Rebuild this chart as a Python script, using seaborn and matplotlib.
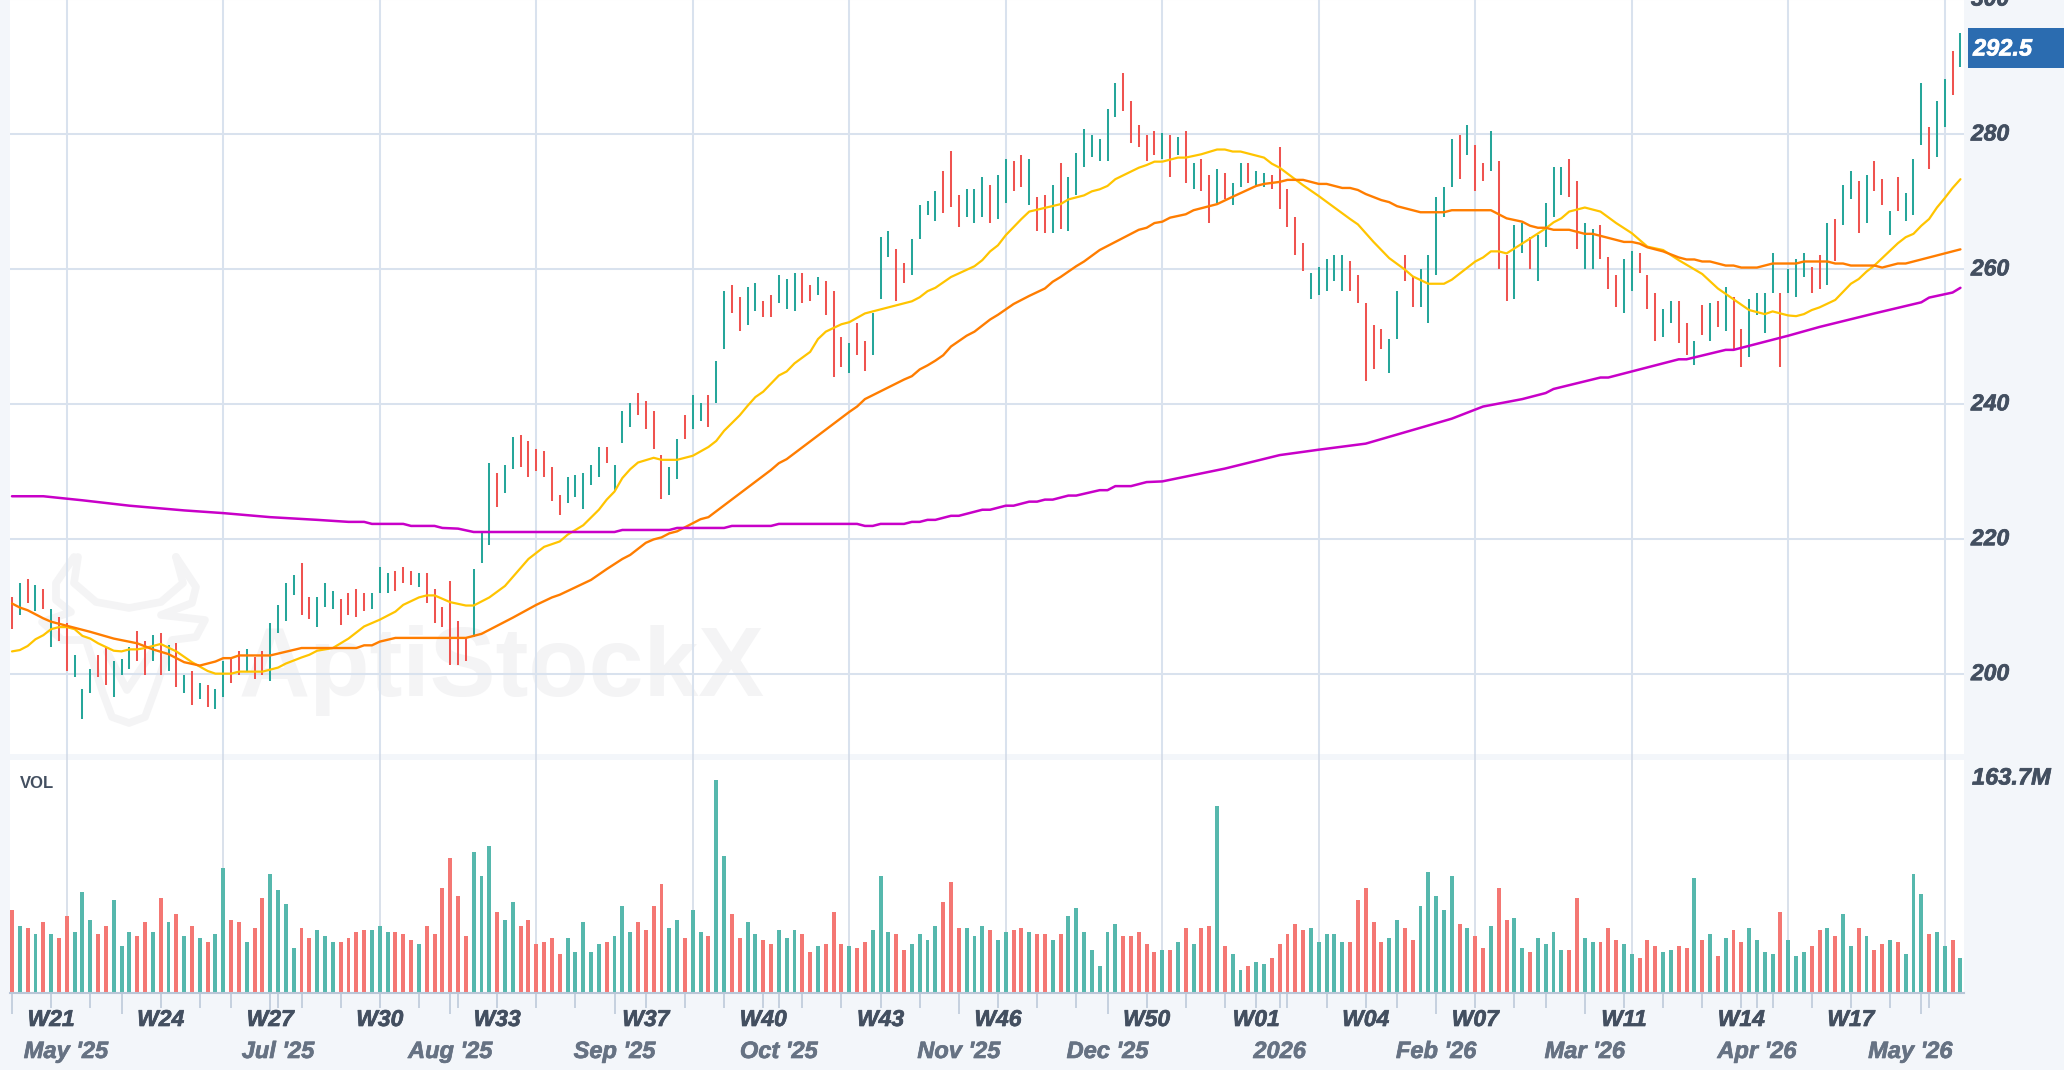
import matplotlib

matplotlib.use("Agg")
import matplotlib.patheffects as pe
import matplotlib.pyplot as plt
import numpy as np
import pandas as pd
import seaborn as sns
from matplotlib.lines import Line2D
from matplotlib.patches import Rectangle
from matplotlib.transforms import Affine2D, blended_transform_factory

# one letter per session, r = down, g = up
DIRECTIONS = list(
    "rgrgrgrrgg" "grrgggrrgr" "grgrgrggrr" "grrggggrrg" "ggrrrrgggr"
    "rrgrrrrrrg" "ggrggrrrrr" "rgggggrggg" "rrrrggrggr" "ggrrggrrgg"
    "grrgrrrgrr" "gggrrggggr" "rrgggrggrr" "grrgrggggg" "ggrrrrrgrg"
    "rgrrgrggrg" "grrrrrgggg" "grrrrrggrr" "gggggrgrrg" "rrggrggggr"
    "rggrrrggrr" "rggrrgrgrg" "rrggggrggg" "rrgrggrgrr" "grgggrggrg"
)

HIGH = [
    211.4, 213.4, 214.0, 213.1, 212.6, 209.6, 208.4, 207.5, 202.8, 197.7,
    200.7, 202.8, 204.0, 201.9, 202.2, 204.0, 206.3, 204.8, 205.7, 206.0,
    204.3, 204.5, 199.8, 200.4, 198.6, 198.3, 197.7, 201.9, 202.2, 203.4,
    203.7, 202.5, 203.4, 207.5, 210.2, 213.4, 214.6, 216.4, 211.4, 211.4,
    213.4, 212.3, 211.1, 212.0, 212.6, 212.0, 212.0, 215.8, 214.9, 215.2,
    215.8, 215.2, 214.9, 214.9, 212.6, 209.9, 213.7, 207.8, 205.4, 215.5,
    221.0, 231.2, 229.8, 230.9, 235.1, 235.4, 234.5, 233.3, 233.0, 230.6,
    226.5, 229.2, 229.5, 229.8, 230.9, 233.6, 233.6, 230.9, 238.9, 240.1,
    241.6, 240.4, 238.9, 232.4, 230.6, 234.8, 238.4, 241.3, 240.1, 241.3,
    246.4, 256.7, 257.6, 255.8, 257.3, 257.9, 255.3, 256.1, 259.1, 258.5,
    259.4, 259.4, 257.6, 258.8, 258.2, 256.7, 249.9, 249.0, 252.0, 249.3,
    253.5, 264.7, 265.6, 263.0, 260.9, 264.4, 269.5, 270.1, 271.6, 274.5,
    277.5, 271.0, 271.9, 271.9, 273.6, 272.4, 273.9, 276.3, 276.0, 276.9,
    276.3, 270.7, 271.0, 272.4, 275.7, 273.6, 277.2, 280.7, 279.9, 279.3,
    283.7, 287.6, 289.0, 284.9, 281.3, 279.9, 280.5, 280.2, 279.9, 279.6,
    280.5, 275.7, 276.3, 273.9, 274.8, 274.2, 272.7, 275.7, 275.7, 274.5,
    274.2, 273.9, 278.1, 271.9, 267.7, 263.9, 259.4, 260.3, 261.5, 262.1,
    262.1, 261.2, 259.1, 254.9, 251.7, 251.1, 249.6, 256.7, 262.1, 258.8,
    260.0, 262.1, 270.7, 272.2, 279.3, 279.9, 281.3, 278.4, 275.7, 280.5,
    276.0, 262.1, 266.5, 266.8, 264.7, 265.0, 269.8, 275.1, 275.1, 276.3,
    273.0, 266.8, 265.9, 266.5, 261.8, 259.1, 261.5, 262.7, 262.4, 259.1,
    256.4, 254.1, 255.3, 255.3, 252.0, 249.3, 254.7, 255.0, 255.3, 257.3,
    255.8, 251.1, 255.6, 256.4, 256.4, 262.4, 256.4, 260.0, 261.5, 262.4,
    260.3, 262.1, 266.8, 267.4, 272.4, 274.5, 273.0, 273.9, 276.0, 273.3,
    268.6, 273.6, 271.3, 276.3, 287.6, 281.0, 284.9, 288.2, 292.3, 295.0,
]

LOW = [
    206.6, 208.7, 210.5, 209.3, 209.6, 204.0, 204.8, 200.4, 199.5, 193.3,
    197.1, 199.5, 198.3, 196.5, 199.8, 200.7, 201.9, 199.8, 201.9, 199.8,
    200.4, 198.0, 197.1, 195.4, 196.2, 195.1, 194.8, 196.5, 198.6, 199.8,
    200.4, 199.2, 199.8, 198.9, 206.0, 207.8, 211.7, 208.7, 208.1, 206.9,
    209.9, 209.6, 207.2, 208.7, 208.4, 209.3, 209.6, 212.0, 212.0, 212.3,
    213.4, 213.1, 212.8, 210.5, 207.5, 206.9, 201.3, 201.3, 201.9, 205.4,
    216.45, 219.1, 224.7, 226.8, 230.3, 230.6, 229.2, 230.0, 229.2, 225.6,
    223.5, 225.3, 226.2, 224.4, 228.0, 229.2, 231.2, 227.1, 234.2, 236.6,
    238.4, 236.3, 233.3, 225.9, 226.5, 228.9, 234.8, 236.3, 237.5, 236.6,
    240.1, 248.1, 253.5, 250.8, 251.7, 253.8, 252.9, 252.9, 255.0, 254.1,
    253.8, 255.0, 255.3, 256.1, 253.2, 244.0, 245.5, 244.6, 247.2, 244.9,
    247.2, 255.5, 261.8, 255.2, 257.9, 259.1, 264.4, 268.0, 267.1, 268.3,
    269.2, 266.2, 267.7, 266.8, 267.7, 266.8, 267.4, 269.8, 271.6, 272.2,
    269.5, 265.6, 265.3, 265.3, 265.9, 265.6, 271.0, 275.1, 276.6, 276.0,
    276.0, 282.5, 283.4, 278.7, 278.1, 276.0, 276.9, 276.3, 273.6, 276.9,
    272.7, 271.9, 271.6, 266.8, 269.8, 270.4, 269.5, 272.2, 272.7, 272.4,
    272.2, 271.9, 268.9, 266.2, 262.1, 259.7, 255.5, 256.1, 256.7, 258.2,
    256.7, 256.7, 254.9, 243.4, 245.2, 248.1, 244.6, 249.6, 258.2, 254.4,
    254.4, 252.0, 259.1, 267.7, 272.2, 273.3, 276.9, 271.6, 273.0, 274.5,
    260.0, 255.2, 255.5, 262.4, 260.0, 258.2, 263.3, 267.7, 271.0, 270.7,
    263.0, 260.0, 260.0, 261.5, 257.0, 254.4, 253.5, 256.7, 259.4, 254.1,
    249.3, 249.9, 252.0, 249.0, 247.3, 245.8, 250.2, 249.3, 251.4, 250.8,
    248.1, 245.5, 247.0, 253.2, 250.5, 256.4, 245.5, 256.4, 255.8, 258.8,
    256.4, 257.0, 257.6, 261.2, 266.5, 270.4, 265.3, 266.8, 271.6, 269.5,
    265.0, 268.6, 267.1, 268.0, 278.4, 274.8, 276.6, 281.0, 285.8, 289.9,
]

VOLUME_M = [
    64.0, 51.7, 50.1, 45.5, 54.7, 45.5, 42.5, 59.3, 47.1, 77.8,
    56.3, 45.5, 51.7, 71.6, 36.3, 47.1, 44.0, 54.7, 47.1, 73.2,
    54.7, 60.9, 44.0, 51.7, 42.5, 39.4, 45.5, 96.2, 56.3, 54.7,
    39.4, 50.1, 73.2, 91.6, 79.3, 68.6, 34.8, 50.1, 42.5, 48.6,
    44.0, 39.4, 39.4, 42.5, 47.1, 48.6, 48.6, 51.7, 47.1, 47.1,
    45.5, 40.9, 37.9, 51.7, 45.5, 80.8, 103.9, 74.7, 44.0, 108.5,
    90.0, 113.1, 62.4, 56.3, 70.1, 51.7, 56.3, 37.9, 39.4, 42.5,
    30.2, 42.5, 31.7, 54.7, 31.7, 37.9, 39.4, 44.0, 67.0, 47.1,
    54.7, 48.6, 67.0, 83.9, 50.1, 56.3, 42.5, 64.0, 47.1, 44.0,
    163.7, 105.4, 60.9, 42.5, 54.7, 45.5, 40.9, 37.9, 48.6, 42.5,
    48.6, 45.5, 31.7, 36.3, 37.9, 62.4, 37.9, 36.3, 34.8, 39.4,
    48.6, 90.0, 47.1, 45.5, 33.3, 37.9, 45.5, 40.9, 51.7, 70.1,
    85.4, 50.1, 50.1, 44.0, 51.7, 48.6, 40.9, 47.1, 48.6, 50.1,
    47.1, 45.5, 45.5, 40.9, 45.5, 59.3, 65.5, 47.1, 33.3, 21.0,
    47.1, 53.2, 44.0, 44.0, 47.1, 37.9, 31.7, 33.3, 33.3, 39.4,
    50.1, 37.9, 50.1, 51.7, 143.8, 36.3, 30.2, 17.9, 21.0, 24.0,
    22.5, 27.1, 37.9, 45.5, 53.2, 48.6, 50.1, 39.4, 45.5, 45.5,
    39.4, 39.4, 71.6, 80.8, 54.7, 39.4, 42.5, 56.3, 50.1, 40.9,
    67.0, 93.1, 74.7, 64.0, 90.0, 53.2, 50.1, 44.0, 34.8, 51.7,
    80.8, 56.3, 57.8, 34.8, 31.7, 42.5, 37.9, 47.1, 33.3, 33.3,
    73.2, 42.5, 39.4, 39.4, 50.1, 40.9, 37.9, 30.2, 27.1, 40.9,
    36.3, 31.7, 33.3, 36.3, 34.8, 88.5, 40.9, 45.5, 28.6, 42.5,
    48.6, 39.4, 50.1, 40.9, 31.7, 30.2, 62.4, 40.9, 28.6, 31.7,
    36.3, 48.6, 50.1, 44.0, 60.9, 36.3, 50.1, 44.0, 33.3, 37.9,
    40.9, 39.4, 30.2, 91.6, 76.2, 45.5, 47.1, 36.3, 40.9, 27.1,
]

YELLOW_BARS = [
    0, 1, 2, 3, 4, 5, 6, 7, 8, 9, 10, 11, 13, 14, 15, 16, 17, 19, 21, 23, 25, 26, 28, 29, 32,
    34, 35, 37, 38, 39, 41, 43, 45, 47, 49, 50, 52, 53, 54, 56, 58, 59, 61, 63, 66, 68, 70, 71,
    73, 75, 76, 77, 78, 79, 80, 82, 83, 85, 87, 89, 90, 91, 93, 94, 95, 96, 98, 99, 100, 102,
    103, 104, 106, 107, 109, 115, 116, 117, 118, 120, 123, 124, 125, 126, 127, 129, 130, 134,
    135, 137, 138, 139, 140, 141, 144, 145, 146, 147, 149, 150, 152, 154, 155, 156, 157, 160,
    161, 162, 165, 167, 171, 172, 174, 176, 178, 179, 181, 183, 184, 187, 188, 189, 190, 191,
    194, 196, 197, 198, 199, 201, 203, 205, 207, 209, 211, 213, 216, 218, 220, 222, 224, 225,
    227, 228, 229, 230, 231, 233, 235, 236, 237, 238, 241, 242, 243, 244, 245, 246, 247, 248, 249,
]
YELLOW_MA = [
    203.3, 203.5, 204.1, 205.1, 205.7, 206.6, 206.9, 206.9, 206.6, 205.6, 205.2, 204.5, 203.4,
    203.3, 203.6, 203.6, 203.8, 204.4, 203.3, 201.7, 200.4, 200.0, 200.0, 200.3, 200.3, 200.9,
    201.5, 202.4, 202.8, 203.4, 203.8, 205.2, 207.0, 208.0, 209.2, 210.2, 211.3, 211.6, 211.6,
    210.6, 210.1, 210.1, 211.3, 213.0, 217.0, 218.8, 219.6, 220.6, 222.0, 224.3, 225.8, 227.0,
    229.0, 230.3, 231.3, 232.0, 231.7, 231.7, 232.3, 233.6, 234.5, 236.0, 238.3, 239.7, 241.0,
    241.8, 244.2, 244.8, 246.0, 247.7, 249.6, 250.7, 251.8, 252.1, 253.4, 255.2, 255.8, 256.7,
    257.2, 258.8, 260.4, 261.3, 262.6, 263.5, 265.0, 267.4, 268.5, 269.6, 270.3, 270.9, 271.5,
    271.8, 272.3, 273.3, 275.0, 275.4, 275.9, 275.9, 276.5, 276.5, 277.0, 277.7, 277.7, 277.4,
    277.4, 276.5, 275.6, 275.0, 272.4, 270.8, 267.4, 266.6, 264.0, 261.6, 259.9, 258.9, 257.8,
    257.8, 258.4, 261.1, 261.7, 262.6, 262.6, 262.3, 264.5, 266.0, 266.9, 267.5, 268.5, 269.1,
    268.5, 266.8, 265.3, 263.3, 262.8, 261.3, 259.25, 257.1, 255.5, 253.9, 253.3, 253.7, 253.1,
    253.0, 253.3, 253.9, 254.3, 255.4, 257.8, 258.5, 259.6, 260.5, 263.8, 264.7, 265.2, 266.4,
    267.4, 269.1, 270.5, 272.0, 273.3,
]

ORANGE_BARS = [
    0, 1, 2, 4, 5, 7, 10, 13, 16, 18, 20, 21, 22, 24, 26, 27, 28, 29, 33, 37, 44, 45, 46, 47,
    49, 58, 60, 61, 64, 67, 69, 70, 74, 76, 78, 79, 81, 82, 83, 84, 85, 87, 88, 89, 97, 98, 99,
    107, 108, 109, 114, 115, 116, 117, 118, 119, 120, 122, 123, 125, 126, 128, 129, 130, 132,
    133, 134, 136, 137, 139, 140, 141, 144, 145, 146, 147, 148, 150, 151, 154, 156, 159, 160,
    162, 163, 165, 167, 168, 170, 171, 172, 173, 175, 176, 177, 180, 183, 184, 189, 190, 191,
    193, 194, 195, 196, 197, 199, 200, 201, 202, 203, 206, 207, 208, 209, 211, 213, 214, 215,
    216, 217, 219, 220, 221, 223, 225, 228, 229, 232, 233, 234, 235, 238, 239, 241, 242, 249,
]
ORANGE_MA = [
    210.4, 209.8, 209.4, 208.2, 207.7, 207.1, 206.2, 205.2, 204.5, 203.6, 202.9, 202.3, 201.7,
    201.2, 201.8, 202.3, 202.3, 202.7, 202.7, 203.8, 203.8, 204.2, 204.2, 204.75, 205.3, 205.3,
    205.9, 206.5, 208.3, 210.2, 211.3, 211.7, 213.9, 215.5, 217.0, 217.6, 219.4, 219.9, 220.2,
    220.8, 221.1, 222.3, 222.9, 223.2, 230.2, 231.2, 231.8, 238.8, 239.6, 240.7, 243.6, 244.1,
    245.1, 245.7, 246.4, 247.2, 248.5, 250.1, 250.7, 252.5, 253.2, 254.8, 255.4, 256.0, 257.1,
    258.1, 258.8, 260.4, 261.1, 262.8, 263.4, 264.0, 265.8, 266.1, 266.8, 267.0, 267.6, 268.1,
    268.7, 269.6, 270.7, 272.3, 272.6, 272.9, 273.2, 273.2, 272.6, 272.6, 272.0, 272.0, 271.7,
    271.1, 270.2, 269.9, 269.3, 268.4, 268.4, 268.7, 268.7, 268.1, 267.5, 267.0, 266.4, 266.1,
    266.1, 265.8, 265.8, 265.5, 265.2, 265.2, 264.9, 264.0, 264.0, 263.75, 263.2, 262.6, 261.7,
    261.4, 261.4, 261.1, 261.1, 260.5, 260.5, 260.2, 260.2, 260.8, 260.8, 261.1, 261.1, 260.8,
    260.8, 260.5, 260.5, 260.2, 260.8, 260.8, 262.9,
]

MAGENTA_BARS = [
    0, 4, 9, 15, 22, 27, 33, 39, 43, 45, 46, 50, 51, 54, 55, 57, 59, 77, 78, 84, 85, 91, 92, 97,
    98, 108, 109, 110, 111, 114, 115, 116, 117, 118, 120, 121, 124, 125, 127, 128, 130, 131,
    132, 133, 135, 136, 139, 140, 141, 143, 145, 147, 155, 162, 167, 173, 184, 188, 193, 196,
    197, 203, 204, 207, 213, 214, 219, 220, 227, 231, 238, 244, 245, 248, 249,
]
MAGENTA_MA = [
    226.3, 226.3, 225.7, 224.9, 224.2, 223.8, 223.2, 222.8, 222.5, 222.5, 222.2, 222.2, 221.9,
    221.9, 221.6, 221.5, 221.0, 221.0, 221.3, 221.3, 221.6, 221.6, 221.9, 221.9, 222.2, 222.2,
    221.9, 221.9, 222.2, 222.2, 222.5, 222.5, 222.8, 222.8, 223.4, 223.4, 224.3, 224.3, 224.9,
    224.9, 225.5, 225.5, 225.8, 225.8, 226.4, 226.4, 227.2, 227.2, 227.8, 227.8, 228.4, 228.5,
    230.4, 232.4, 233.2, 234.1, 237.8, 239.6, 240.7, 241.6, 242.2, 243.9, 243.9, 244.8, 246.6,
    246.6, 248.0, 248.0, 250.1, 251.4, 253.4, 255.05, 255.75, 256.5, 257.2,
]

PRICE_TICKS = [200, 220, 240, 260, 280, 300]
LAST_PRICE = 292.5
MAX_VOLUME_LABEL = "163.7M"

WEEK_TICKS = [
    5, 10, 19, 24, 28, 34, 37, 42, 47, 52, 57, 62, 67, 72, 81, 86, 91, 96, 98, 101, 106, 111,
    116, 126, 131, 136, 145, 150, 155, 159, 162, 163, 168, 173, 177, 187, 192, 196, 206, 211,
    216, 221, 223, 225, 230, 235, 240, 245,
]
MONTH_TICKS = [0, 14, 33, 56, 77, 121, 140, 182, 201, 244]
WEEK_LABELS = ["W21", "W24", "W27", "W30", "W33", "W37", "W40", "W43",
               "W46", "W50", "W01", "W04", "W07", "W11", "W14", "W17"]
WEEK_LABEL_BARS = [5, 19, 33, 47, 62, 81, 96, 111, 126, 145, 159, 173, 187, 206, 221, 235]
MONTH_LABELS = ["May '25", "Jul '25", "Aug '25", "Sep '25", "Oct '25", "Nov '25", "Dec '25",
                "2026", "Feb '26", "Mar '26", "Apr '26", "May '26"]
MONTH_LABEL_BARS = [6.9, 34, 56, 77, 98, 121, 140, 162, 182, 201, 223, 242.6]
GRID_BARS = [7, 27, 47, 67, 87, 107, 127, 147, 167, 187, 207, 227, 247]

RED = "#ef5350"
GREEN = "#26a69a"
RED_VOL = "#f47773"
GREEN_VOL = "#56b8ad"
YELLOW = "#ffc400"
ORANGE = "#ff7d00"
MAGENTA = "#c800c8"
BG = "#f3f6fa"
GRID = "#d9e2ee"
INK = "#434f60"
INK_SOFT = "#667283"
WATERMARK = "#f4f4f5"

W, H = 2064, 1070


def px_box(left, top, right, bottom):
    return [left / W, 1 - bottom / H, (right - left) / W, (bottom - top) / H]


def heavy(color, width=0.5):
    return [pe.withStroke(linewidth=width, foreground=color)]


def draw_watermark(fig, ax):
    # logo and name sit behind the price bars, traced in figure pixels
    px = Affine2D().scale(1 / W, -1 / H).translate(0, 1) + fig.transFigure
    strokes = [
        [(74, 557), (56, 583), (56, 600), (71, 612), (42, 622), (62, 640), (86, 640),
         (103, 693), (112, 717), (129, 723), (145, 717), (156, 687), (172, 640),
         (196, 637), (205, 620), (161, 615), (192, 603), (196, 587), (176, 557)],
        [(78, 557), (74, 583), (96, 602), (129, 608), (161, 602), (183, 583), (176, 557)],
        [(107, 652), (127, 690), (152, 652)],
    ]
    for stroke in strokes:
        xs, ys = zip(*stroke)
        ax.add_line(Line2D(xs, ys, transform=px, color=WATERMARK, linewidth=5.5,
                           solid_joinstyle="round", zorder=0.2))
    ax.text(502 / W, 1 - 670 / H, "AptiStockX", transform=fig.transFigure, color=WATERMARK,
            fontsize=71, fontweight="bold", ha="center", va="center", zorder=0.2)


def main():
    sns.set_theme(style="whitegrid")
    plt.rcParams["font.family"] = ["Liberation Sans", "DejaVu Sans"]

    bars = np.arange(len(VOLUME_M))
    df = pd.DataFrame({"bar": bars, "high": HIGH, "low": LOW, "volume": VOLUME_M, "dir": DIRECTIONS})
    ranges = df.melt(id_vars=["bar", "dir"], value_vars=["high", "low"], value_name="price")

    fig = plt.figure(figsize=(W / 100, H / 100), dpi=100, facecolor=BG)

    # x positions: bar i is centred at 12 + 7.825 i pixels
    xlim = ((10 - 12) / 7.825, (1964 - 12) / 7.825)

    vol_ax = fig.add_axes(px_box(10, 754, 1964, 993.3), facecolor="white")
    sns.barplot(data=df, x="bar", y="volume", hue="dir", palette={"r": RED_VOL, "g": GREEN_VOL},
                native_scale=True, dodge=False, width=0.5, saturation=1, linewidth=0,
                legend=False, ax=vol_ax)
    vol_ax.set_xlim(xlim)
    vol_ax.set_ylim(0, 183.65)
    vol_ax.axhspan(179.05, 183.65, color=BG, linewidth=0, zorder=0.1)
    vol_ax.vlines(GRID_BARS, 0, 183.65, color="#d3dbe7", linewidth=1.2, zorder=0.5)
    vol_ax.grid(False)
    vol_ax.set_xlabel("")
    vol_ax.set_ylabel("")
    vol_ax.set_yticks([])
    vol_ax.set_xticks(WEEK_TICKS)
    vol_ax.set_xticks(MONTH_TICKS, minor=True)
    vol_ax.set_xticklabels([])
    vol_ax.tick_params(axis="x", which="major", length=10.5, width=1.1, color="#b9c6d7", bottom=True)
    vol_ax.tick_params(axis="x", which="minor", length=15, width=1.1, color="#b9c6d7", bottom=True)
    for side in ["top", "left", "right"]:
        vol_ax.spines[side].set_visible(False)
    vol_ax.spines["bottom"].set_color("#b9c6d7")
    vol_ax.spines["bottom"].set_linewidth(1.5)

    price_ax = fig.add_axes(px_box(10, -4.29, 1964, 754), facecolor="white")
    draw_watermark(fig, price_ax)

    sns.lineplot(data=ranges, x="bar", y="price", hue="dir", units="bar", estimator=None,
                 palette={"r": RED, "g": GREEN}, linewidth=1.45, solid_capstyle="butt",
                 legend=False, ax=price_ax, zorder=3)
    sns.lineplot(x=YELLOW_BARS, y=YELLOW_MA, color=YELLOW, linewidth=1.6, ax=price_ax, zorder=4)
    sns.lineplot(x=ORANGE_BARS, y=ORANGE_MA, color=ORANGE, linewidth=1.7, ax=price_ax, zorder=4)
    sns.lineplot(x=MAGENTA_BARS, y=MAGENTA_MA, color=MAGENTA, linewidth=1.8, ax=price_ax, zorder=4)

    price_ax.set_xlim(xlim)
    price_ax.set_ylim(188.09, 300.5)
    price_ax.set_xticks(GRID_BARS)
    price_ax.set_yticks(PRICE_TICKS)
    price_ax.set_axisbelow(True)
    price_ax.grid(True, color=GRID, linewidth=1.45)
    price_ax.set_xlabel("")
    price_ax.set_ylabel("")
    price_ax.tick_params(axis="x", length=0, labelbottom=False)
    price_ax.tick_params(axis="y", length=0, labelleft=False, labelright=True, pad=5, colors=INK)
    for label in price_ax.get_yticklabels():
        label.set_fontsize(16.5)
        label.set_fontweight("bold")
        label.set_fontstyle("italic")
        label.set_verticalalignment("center")
        label.set_path_effects(heavy(INK))
    for spine in price_ax.spines.values():
        spine.set_visible(False)

    # last price tag on the right edge
    fig.add_artist(Rectangle((1968 / W, 1 - 68 / H), 96 / W, 40 / H, transform=fig.transFigure,
                             facecolor="#2b6cb0", edgecolor="none", zorder=6))
    fig.text(1973 / W, 1 - 49 / H, f"{LAST_PRICE:.1f}", color="white", fontsize=17,
             fontweight="bold", fontstyle="italic", ha="left", va="center", zorder=7,
             path_effects=heavy("white"))

    fig.text(1972 / W, 1 - 778 / H, MAX_VOLUME_LABEL, color=INK, fontsize=17, fontweight="bold",
             fontstyle="italic", ha="left", va="center", path_effects=heavy(INK))
    fig.text(20 / W, 1 - 784 / H, "VOL", color=INK, fontsize=12, fontweight="bold",
             ha="left", va="center")

    under_axis = blended_transform_factory(vol_ax.transData, fig.transFigure)
    for pos, label in zip(WEEK_LABEL_BARS, WEEK_LABELS):
        vol_ax.text(pos, 1 - 1019.5 / H, label, transform=under_axis, color=INK, fontsize=16.5,
                    fontweight="bold", fontstyle="italic", ha="center", va="center",
                    clip_on=False, path_effects=heavy(INK))
    for pos, label in zip(MONTH_LABEL_BARS, MONTH_LABELS):
        vol_ax.text(pos, 1 - 1051.5 / H, label, transform=under_axis, color=INK_SOFT, fontsize=17,
                    fontweight="bold", fontstyle="italic", ha="center", va="center",
                    clip_on=False, path_effects=heavy(INK_SOFT))

    fig.savefig("out.png", dpi=100, facecolor=BG)
    plt.close(fig)


if __name__ == "__main__":
    main()
